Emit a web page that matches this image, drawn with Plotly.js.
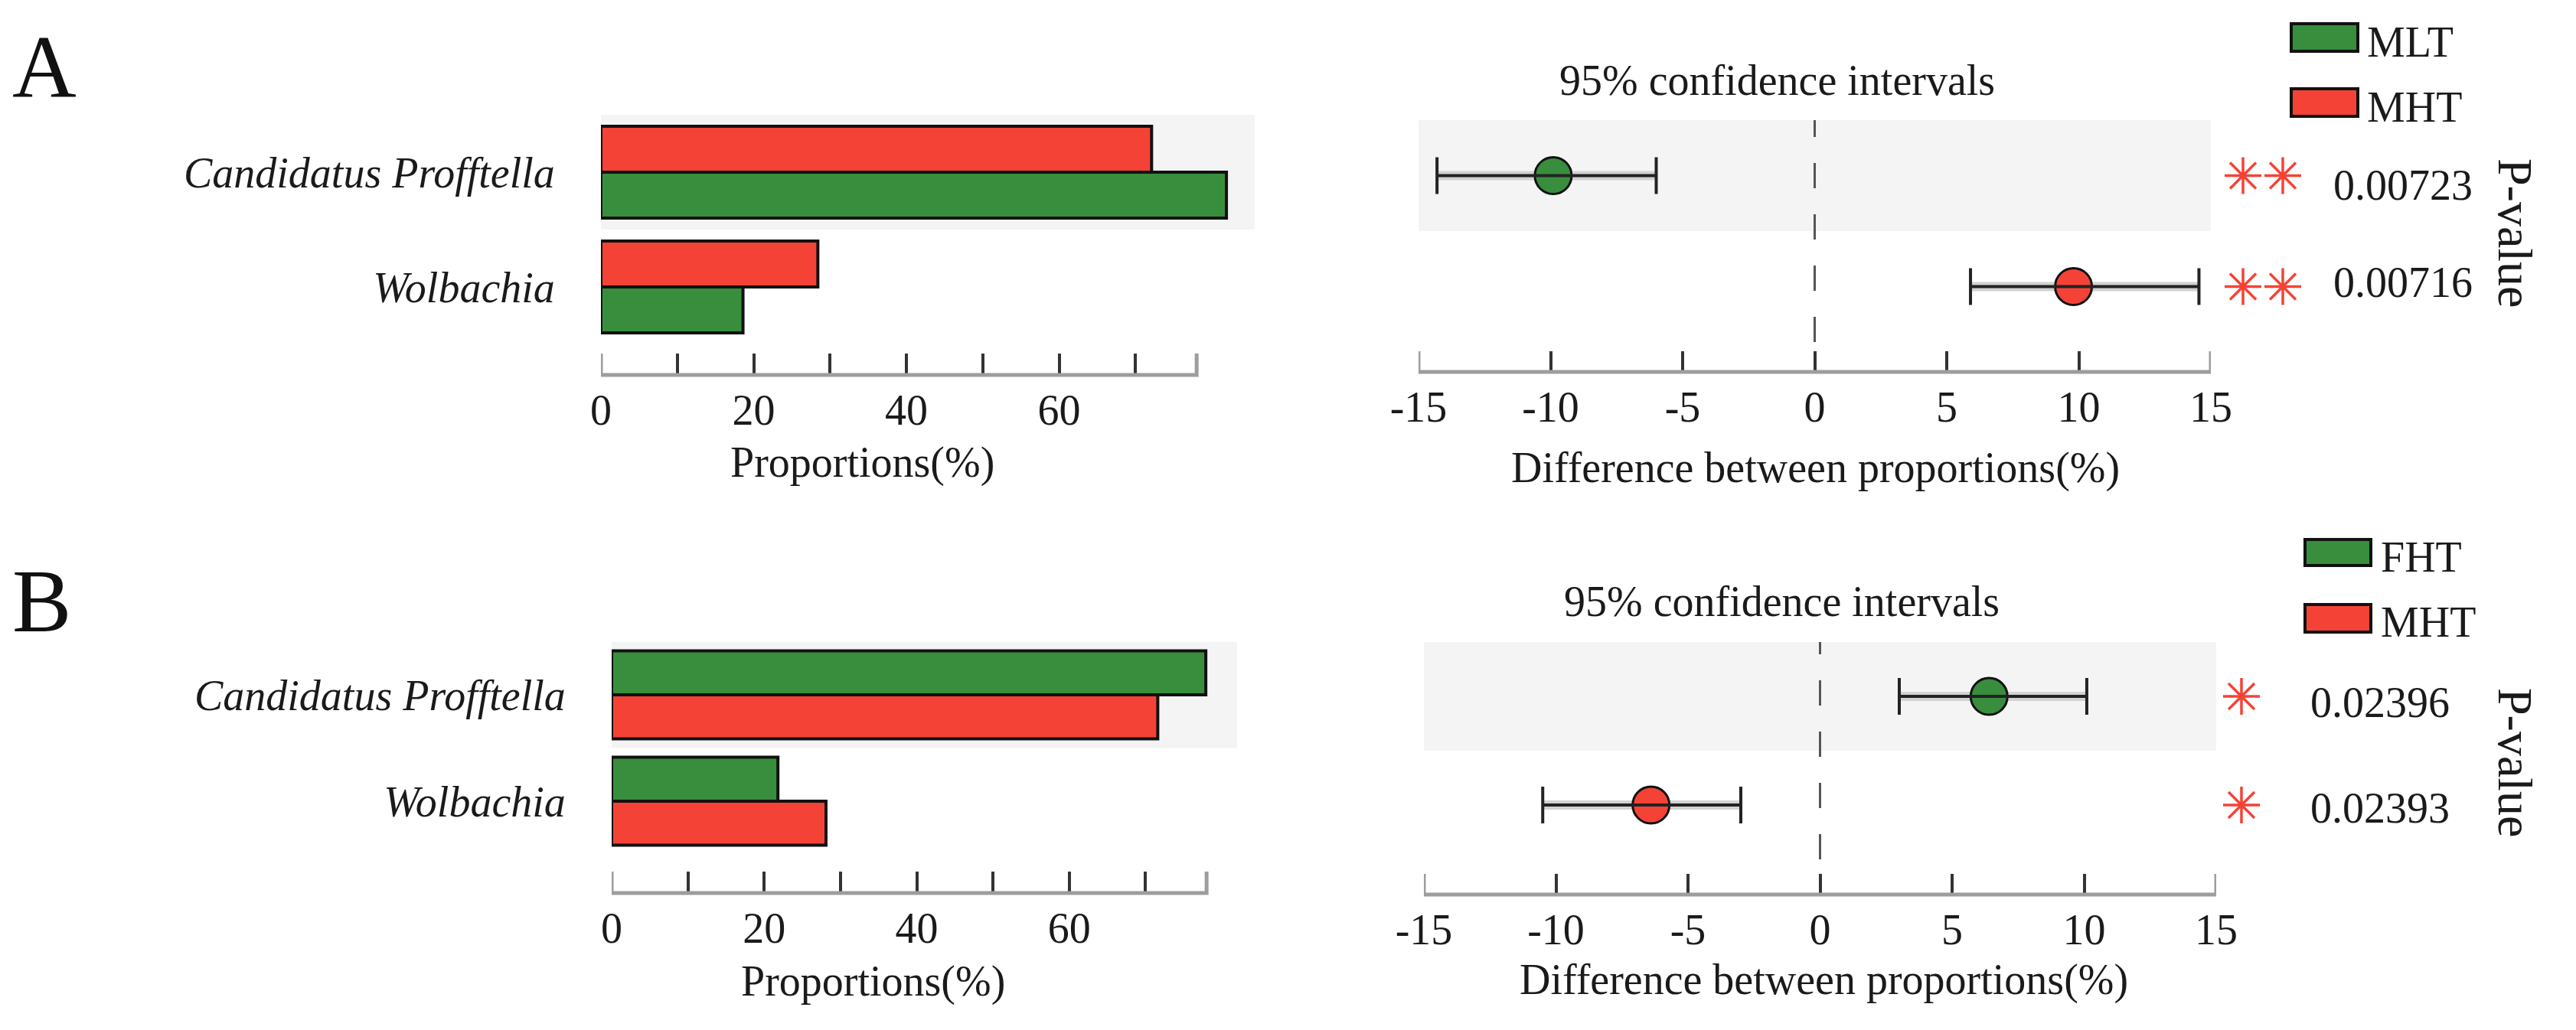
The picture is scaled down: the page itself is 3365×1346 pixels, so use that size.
<!DOCTYPE html>
<html><head><meta charset="utf-8">
<script src="https://cdn.plot.ly/plotly-3.0.1.min.js"></script>
<style>html,body{margin:0;padding:0;background:#fff;overflow:hidden}</style>
</head><body><div id="chart" style="width:3365px;height:1346px"></div>
<script>
// ---------------- data ----------------
const taxa = ['Candidatus Profftella', 'Wolbachia'];
// Panel A
const groupsA = ['MLT', 'MHT'];
const propA_MLT = [81.9, 18.6];
const propA_MHT = [72.1, 28.4];
const diffA = [-9.9, 9.8];
const ciLowA = [-14.3, 5.9];
const ciHighA = [-6.0, 14.55];
const pA = ['0.00723', '0.00716'];
const sigA = ['**', '**'];
// Panel B
const groupsB = ['FHT', 'MHT'];
const propB_FHT = [77.9, 21.8];
const propB_MHT = [71.6, 28.1];
const diffB = [6.4, -6.4];
const ciLowB = [3.0, -10.5];
const ciHighB = [10.1, -3.0];
const pB = ['0.02396', '0.02393'];
const sigB = ['*', '*'];
// axis ticks
const propTicks = [0, 10, 20, 30, 40, 50, 60, 70];
const propTickText = ['0', '', '20', '', '40', '', '60', ''];
const diffTicks = [-15, -10, -5, 0, 5, 10, 15];
const diffTickText = ['-15', '-10', '-5', '0', '5', '10', '15'];
const xTitleProp = 'Proportions(%)';
const xTitleDiff = 'Difference between proportions(%)';
const ciTitle = '95% confidence intervals';
const pTitle = 'P-value';

// ---------------- style ----------------
const W = 3365, H = 1346;
const GREEN = '#388E3C', RED = '#F44336';
const FONT = '"Liberation Serif", "Times New Roman", serif';
const TXT = '#1a1a1a';
const FS = 56;
const px = v => v / W;
const py = v => 1 - v / H;
const catOrder = taxa.slice().reverse();

const panels = [
  { key: 'A', groups: groupsA, g1: propA_MLT, g2: propA_MHT, diff: diffA, lo: ciLowA, hi: ciHighA, p: pA, sig: sigA,
    topIsFirst: false,
    barDom: [785, 1639], barRange: [0, 85.6], barY: [150, 450], barAxisY: 490, barTick: 28, barEnd: 78, barW: 0.4,
    ciDom: [1853, 2888], ciY: [157, 447], ciAxisY: 486, ciTick: 27,
    letter: [14, 88], ciTitleXY: [2321, 105], propTitleXY: [1126, 605], diffTitleXY: [2371, 612],
    legBox: [2993, 3080], legY: [[31, 67], [116, 152]], legTextX: 3090, legTextY: [55, 140],
    starDom: [2890, 3010], starX: [40, 92], pX: 3046, pShift: [-12, 6], pTitleXY: [3285, 305] },
  { key: 'B', groups: groupsB, g1: propB_FHT, g2: propB_MHT, diff: diffB, lo: ciLowB, hi: ciHighB, p: pB, sig: sigB,
    topIsFirst: true,
    barDom: [799, 1616], barRange: [0, 82.0], barY: [838.5, 1116.5], barAxisY: 1167, barTick: 28, barEnd: 78, barW: 0.414,
    ciDom: [1860, 2895], ciY: [839, 1123], ciAxisY: 1169, ciTick: 27,
    letter: [14, 786], ciTitleXY: [2327, 786], propTitleXY: [1140, 1282], diffTitleXY: [2382, 1280],
    legBox: [3011, 3097], legY: [[705, 739], [790, 826]], legTextX: 3108, legTextY: [728, 813],
    starDom: [2890, 3010], starX: [38], pX: 3016, pShift: [-8, -4], pTitleXY: [3286, 997] }
];

const data = [];
const layout = {
  width: W, height: H, margin: { l: 0, r: 0, t: 0, b: 0 },
  paper_bgcolor: '#fff', plot_bgcolor: 'rgba(0,0,0,0)',
  barmode: 'overlay', showlegend: false,
  font: { family: FONT, size: FS, color: TXT },
  shapes: [], annotations: []
};

panels.forEach((P, i) => {
  const n = i * 3;
  const xb = 'x' + (n + 1 === 1 ? '' : n + 1), yb = 'y' + (n + 1 === 1 ? '' : n + 1);
  const xc = 'x' + (n + 2), yc = 'y' + (n + 2);
  const xs = 'x' + (n + 3);
  const nm = a => a.replace('x', 'xaxis').replace('y', 'yaxis');
  const colors = [GREEN, RED];

  // ---- bars ----
  [P.g1, P.g2].forEach((vals, k) => {
    const onTop = (k === 0) === P.topIsFirst;
    data.push({
      type: 'bar', orientation: 'h', y: taxa, x: vals, name: P.groups[k],
      xaxis: xb, yaxis: yb, width: P.barW, offset: onTop ? 0 : -P.barW,
      marker: { color: colors[k], line: { color: '#111', width: 4 } }
    });
  });

  // ---- CI ----
  const plus = P.hi.map((h, j) => h - P.diff[j]);
  const minus = P.lo.map((l, j) => P.diff[j] - l);
  const dotColors = P.g1.map((v, j) => v > P.g2[j] ? GREEN : RED);
  data.push({ type: 'scatter', mode: 'markers', x: P.diff, y: taxa, xaxis: xc, yaxis: yc,
    marker: { size: 1, opacity: 0 },
    error_x: { type: 'data', symmetric: false, array: plus, arrayminus: minus, color: '#d2d2d2', thickness: 12, width: 0 } });
  data.push({ type: 'scatter', mode: 'markers', x: P.diff, y: taxa, xaxis: xc, yaxis: yc,
    marker: { size: 48, color: dotColors, line: { color: '#111', width: 3 } } });
  data.push({ type: 'scatter', mode: 'markers', x: P.diff, y: taxa, xaxis: xc, yaxis: yc,
    marker: { size: 1, opacity: 0 },
    error_x: { type: 'data', symmetric: false, array: plus, arrayminus: minus, color: '#222', thickness: 4, width: 24 } });

  // ---- significance stars (own hidden x axis sharing the CI rows) ----
  const sx = [], sy = [];
  P.sig.forEach((s, j) => { for (let k = 0; k < s.length; k++) { sx.push(P.starX[k]); sy.push(taxa[j]); } });
  data.push({ type: 'scatter', mode: 'markers', x: sx, y: sy, xaxis: xs, yaxis: yc,
    marker: { symbol: 'asterisk-open', size: 40, color: RED, line: { color: RED, width: 3.5 } } });

  // ---- axes ----
  layout[nm(xb)] = { domain: [px(P.barDom[0]), px(P.barDom[1])], range: P.barRange, anchor: 'free', position: py(P.barAxisY),
    tickvals: propTicks, ticktext: propTickText, ticks: 'inside', ticklen: P.barTick, tickwidth: 4, tickcolor: '#333',
    showline: false, showgrid: false, zeroline: false, ticklabelstandoff: 8,
    tickfont: { family: FONT, size: FS, color: TXT }, fixedrange: true };
  layout[nm(yb)] = { domain: [py(P.barY[1]), py(P.barY[0])], type: 'category', categoryorder: 'array', categoryarray: catOrder,
    range: [-0.5, 1.5], anchor: xb, showline: false, showgrid: false, zeroline: false,
    ticks: 'outside', ticklen: 48, tickcolor: 'rgba(0,0,0,0)',
    tickfont: { family: FONT, size: FS, color: TXT, style: 'italic' }, fixedrange: true };
  layout[nm(xc)] = { domain: [px(P.ciDom[0]), px(P.ciDom[1])], range: [-15, 15], anchor: 'free', position: py(P.ciAxisY),
    tickvals: diffTicks, ticktext: diffTickText, ticks: 'inside', ticklen: P.ciTick, tickwidth: 4, tickcolor: '#333',
    showline: false, showgrid: false, zeroline: false, ticklabelstandoff: 8,
    tickfont: { family: FONT, size: FS, color: TXT }, fixedrange: true };
  layout[nm(yc)] = { domain: [py(P.ciY[1]), py(P.ciY[0])], type: 'category', categoryorder: 'array', categoryarray: catOrder,
    range: [-0.5, 1.5], anchor: xc, showline: false, showgrid: false, zeroline: false, showticklabels: false, ticks: '', fixedrange: true };
  layout[nm(xs)] = { domain: [px(P.starDom[0]), px(P.starDom[1])], range: [0, P.starDom[1] - P.starDom[0]],
    anchor: yc, visible: false, fixedrange: true };

  // ---- shapes ----
  const S = layout.shapes;
  S.push({ type: 'rect', xref: xb + ' domain', x0: 0, x1: 1, yref: yb, y0: 0.5, y1: 1.5, fillcolor: '#f4f4f4', line: { width: 0 }, layer: 'below' });
  S.push({ type: 'rect', xref: xc + ' domain', x0: 0, x1: 1, yref: yc, y0: 0.5, y1: 1.5, fillcolor: '#f4f4f4', line: { width: 0 }, layer: 'below' });
  S.push({ type: 'line', xref: xc, x0: 0, x1: 0, yref: yc + ' domain', y0: 0, y1: 1, line: { color: '#555', width: 3, dash: '33px,34px' }, layer: 'below' });
  S.push({ type: 'path', xref: xb, yref: 'paper', layer: 'above',
    path: `M 0,${py(P.barAxisY - P.barTick)} L 0,${py(P.barAxisY)} L ${P.barEnd},${py(P.barAxisY)} L ${P.barEnd},${py(P.barAxisY - P.barTick)}`,
    line: { color: '#9d9d9d', width: 5 } });
  S.push({ type: 'path', xref: xc, yref: 'paper', layer: 'above',
    path: `M -15,${py(P.ciAxisY - P.ciTick)} L -15,${py(P.ciAxisY)} L 15,${py(P.ciAxisY)} L 15,${py(P.ciAxisY - P.ciTick)}`,
    line: { color: '#9d9d9d', width: 5 } });
  P.groups.forEach((g, k) => {
    S.push({ type: 'rect', xref: 'paper', yref: 'paper', x0: px(P.legBox[0]), x1: px(P.legBox[1]),
      y0: py(P.legY[k][1]), y1: py(P.legY[k][0]), fillcolor: colors[k], line: { color: '#111', width: 4 } });
  });

  // ---- annotations ----
  const A = layout.annotations;
  const ann = (text, x, y, extra) => Object.assign({ text, xref: 'paper', yref: 'paper', x: px(x), y: py(y),
    showarrow: false, xanchor: 'center', yanchor: 'middle', font: { family: FONT, size: FS, color: TXT } }, extra || {});
  A.push(ann(P.key, P.letter[0], P.letter[1], { xanchor: 'left', font: { family: FONT, size: 116, color: '#111' } }));
  A.push(ann(ciTitle, P.ciTitleXY[0], P.ciTitleXY[1]));
  A.push(ann(xTitleProp, P.propTitleXY[0], P.propTitleXY[1]));
  A.push(ann(xTitleDiff, P.diffTitleXY[0], P.diffTitleXY[1]));
  A.push(ann(pTitle, P.pTitleXY[0], P.pTitleXY[1], { textangle: 90, font: { family: FONT, size: 64, color: TXT } }));
  P.groups.forEach((g, k) => A.push(ann(g, P.legTextX, P.legTextY[k], { xanchor: 'left' })));
  P.p.forEach((v, j) => A.push({ text: v, xref: 'paper', x: px(P.pX), yref: yc, y: taxa[j], yshift: P.pShift[j],
    showarrow: false, xanchor: 'left', yanchor: 'middle', font: { family: FONT, size: FS, color: TXT } }));
});

Plotly.newPlot('chart', data, layout, { staticPlot: true, displayModeBar: false });
</script></body></html>
